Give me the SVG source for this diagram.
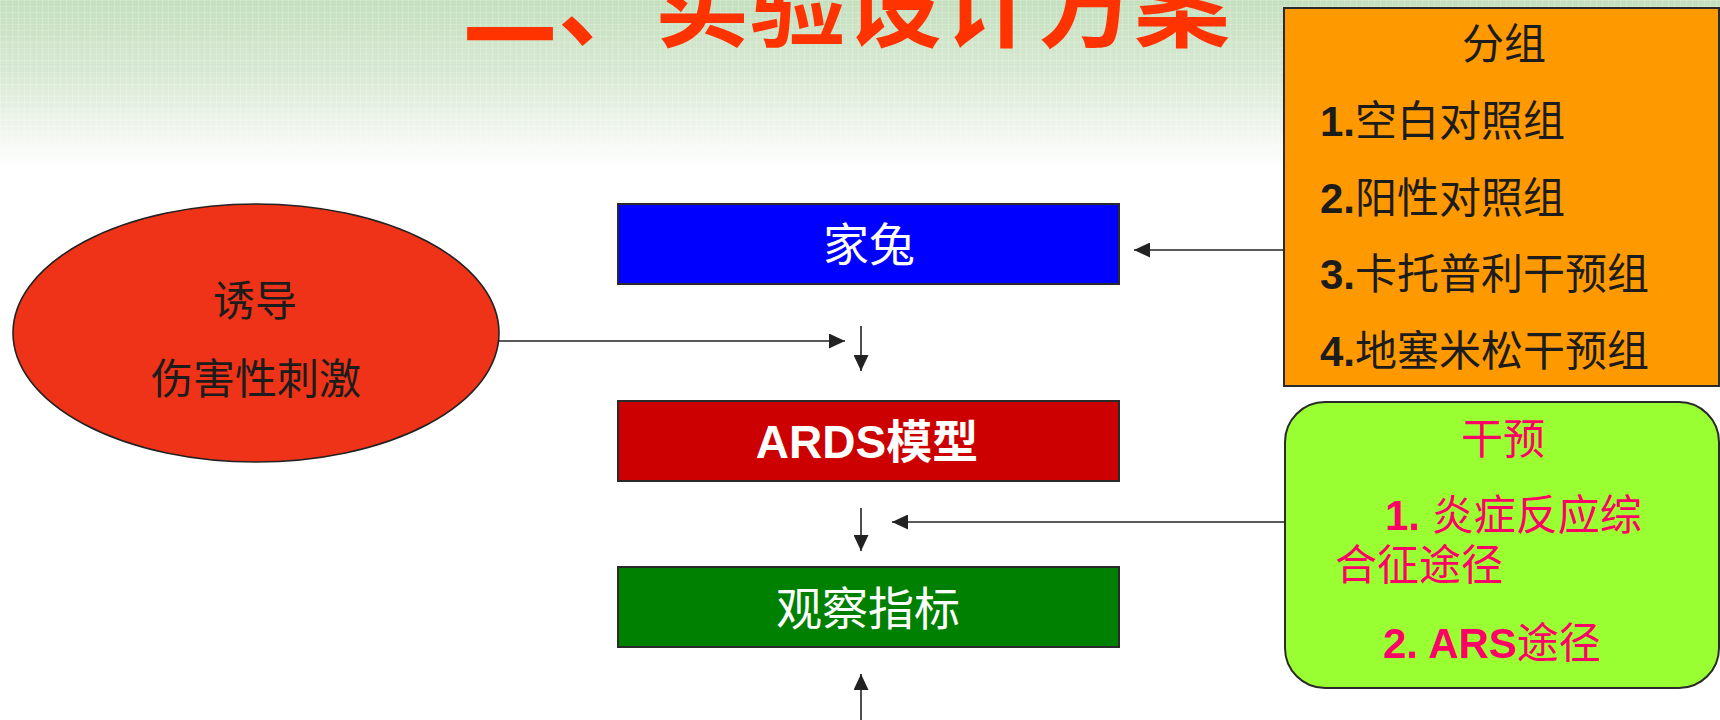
<svg xmlns="http://www.w3.org/2000/svg" width="1720" height="720" viewBox="0 0 1720 720">
  <defs>
    <linearGradient id="bg" x1="0" y1="0" x2="0" y2="1">
      <stop offset="0" stop-color="#c4dfbe"/>
      <stop offset="0.45" stop-color="#d9e9d4"/>
      <stop offset="0.8" stop-color="#f2f7f0"/>
      <stop offset="1" stop-color="#ffffff"/>
    </linearGradient>
    <pattern id="grid" width="6" height="6" patternUnits="userSpaceOnUse">
      <path d="M0,0.5 H6 M0.5,0 V6" stroke="#ffffff" stroke-width="1" stroke-opacity="0.18" fill="none"/>
    </pattern>
    <marker id="ah" viewBox="0 0 16 15" refX="16" refY="7.5" markerWidth="16" markerHeight="15" markerUnits="userSpaceOnUse" orient="auto">
      <path d="M0,0 L16,7.5 L0,15 Z" fill="#222"/>
    </marker>
    <style>
      .cjk { font-family: "Liberation Sans", "Noto Sans CJK SC", sans-serif; }
      .b { font-weight: bold; }
      .box { stroke: #2a2a2a; stroke-width: 2; }
      .conn { stroke: #222; stroke-width: 1.6; fill: none; marker-end: url(#ah); }
      .dark { fill: #1c1c1c; font-size: 42px; }
      .pink { fill: #ff0066; font-size: 42px; }
      .white { fill: #ffffff; font-size: 46px; }
    </style>
  </defs>

  <rect x="0" y="0" width="1720" height="720" fill="#ffffff"/>
  <rect x="0" y="0" width="1720" height="168" fill="url(#bg)"/>
  <rect x="0" y="0" width="1720" height="150" fill="url(#grid)"/>

  <g id="title">
    <text class="cjk b" x="846" y="39" font-size="96" fill="#ff3300" text-anchor="middle">二、实验设计方案</text>
  </g>

  <g id="connectors">
    <line class="conn" x1="498" y1="341" x2="845" y2="341"/>
    <line class="conn" x1="861" y1="326" x2="861" y2="371"/>
    <line class="conn" x1="861" y1="508" x2="861" y2="551"/>
    <line class="conn" x1="1285" y1="522" x2="892" y2="522"/>
    <line class="conn" x1="1284" y1="250" x2="1134" y2="250"/>
    <line class="conn" x1="861" y1="720" x2="861" y2="674"/>
  </g>

  <g id="node-stimulus">
    <ellipse cx="256" cy="333" rx="243" ry="129" fill="#ee3318" stroke="#222" stroke-width="1.6"/>
    <text class="cjk dark" x="255" y="316" text-anchor="middle">诱导</text>
    <text class="cjk dark" x="256" y="394" text-anchor="middle">伤害性刺激</text>
  </g>

  <g id="node-rabbit">
    <rect class="box" x="618" y="204" width="501" height="80" fill="#0000ff"/>
    <text class="cjk white" x="869" y="261" text-anchor="middle">家兔</text>
  </g>

  <g id="node-ards">
    <rect class="box" x="618" y="401" width="501" height="80" fill="#cc0000"/>
    <text class="cjk white b" x="867" y="458" text-anchor="middle">ARDS模型</text>
  </g>

  <g id="node-observe">
    <rect class="box" x="618" y="567" width="501" height="80" fill="#008000"/>
    <text class="cjk white" x="868" y="625" text-anchor="middle">观察指标</text>
  </g>

  <g id="node-groups">
    <rect class="box" x="1284" y="8" width="435" height="378" fill="#ff9900"/>
    <text class="cjk dark" x="1504" y="59" text-anchor="middle">分组</text>
    <text class="cjk dark" x="1320" y="136"><tspan class="b">1.</tspan>空白对照组</text>
    <text class="cjk dark" x="1320" y="213"><tspan class="b">2.</tspan>阳性对照组</text>
    <text class="cjk dark" x="1320" y="289"><tspan class="b">3.</tspan>卡托普利干预组</text>
    <text class="cjk dark" x="1320" y="366"><tspan class="b">4.</tspan>地塞米松干预组</text>
  </g>

  <g id="node-intervention">
    <rect class="box" x="1285" y="402" width="434" height="286" rx="40" ry="40" fill="#99ff33"/>
    <text class="cjk pink" x="1503" y="454" text-anchor="middle">干预</text>
    <text class="cjk pink" x="1385" y="530"><tspan class="b">1. </tspan>炎症反应综</text>
    <text class="cjk pink" x="1335" y="580">合征途径</text>
    <text class="cjk pink" x="1383" y="658"><tspan class="b">2. ARS</tspan>途径</text>
  </g>
</svg>
